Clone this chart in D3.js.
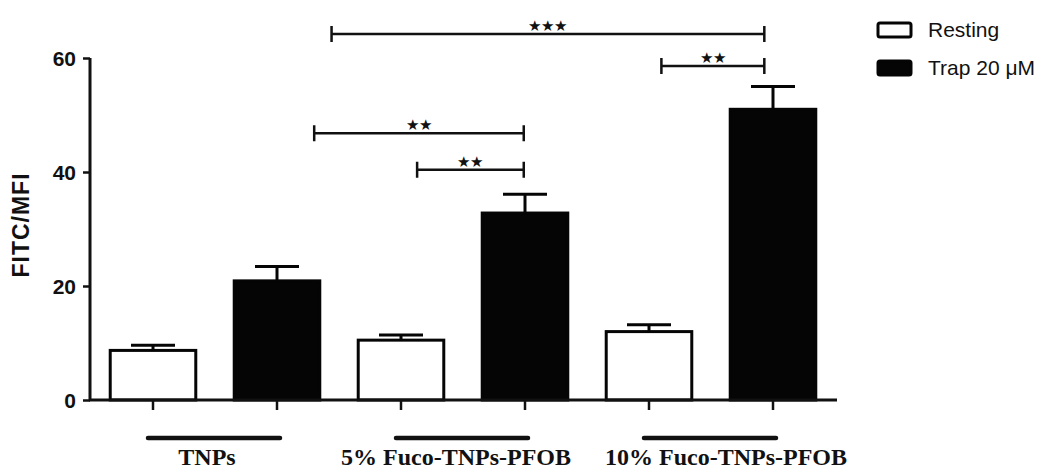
<!DOCTYPE html>
<html lang="en">
<head>
<meta charset="UTF-8">
<title>FITC/MFI bar chart</title>
<style>
    body { margin: 0; background: #fff; }
    svg { display: block; }
    .tick-label { font-family: Arial, 'Liberation Sans', sans-serif; font-weight: bold; font-size: 21px; fill: #111; }
    .axis-title { font-family: Arial, 'Liberation Sans', sans-serif; font-weight: bold; font-size: 23px; letter-spacing: 1px; fill: #111; }
    .group-label { font-family: 'Times New Roman', 'Liberation Serif', serif; font-weight: bold; font-size: 24px; fill: #111; }
    .legend-label { font-family: Arial, 'Liberation Sans', sans-serif; font-size: 21px; fill: #111; }
    .star { font-family: Arial, 'Liberation Sans', sans-serif; font-size: 15px; fill: #111; }
</style>
</head>
<body>
<script src="https://d3js.org/d3.v7.min.js"></script>
<script>
// data
const groups = ['TNPs', '5% Fuco-TNPs-PFOB', '10% Fuco-TNPs-PFOB'];
const seriesNames = ['Resting', 'Trap 20 \u03bcM'];
const restingMean = [8.7, 10.5, 12.0];
const restingErr = [0.9, 0.9, 1.2];
const trapMean = [20.9, 32.8, 51.0];
const trapErr = [2.5, 3.3, 4.0];
const yTicks = [0, 20, 40, 60];
// label nudges so the long names do not collide
const labelShift = [-8, -7, 15];

// significance brackets: x in bar-slot units (0..5), y in data units
const brackets = [
    { x1: 1.44, x2: 4.93, y: 64.2, label: '***' },
    { x1: 4.10, x2: 4.93, y: 58.6, label: '**' },
    { x1: 1.30, x2: 2.99, y: 46.8, label: '**' },
    { x1: 2.13, x2: 2.99, y: 40.4, label: '**' }
];

const W = 1045, H = 473;
const svg = d3.select('body').append('svg').attr('width', W).attr('height', H);

// one slot per bar, resting then trap inside each group
const bars = [];
groups.forEach((g, i) => {
    bars.push({ group: g, series: 0, value: restingMean[i], err: restingErr[i] });
    bars.push({ group: g, series: 1, value: trapMean[i], err: trapErr[i] });
});
const slots = d3.range(bars.length);

const x = d3.scaleBand().domain(slots).range([91, 835]).paddingInner(0.31).paddingOuter(0.155);
const xc = d3.scaleLinear().domain([0, 1]).range([x(0) + x.bandwidth() / 2, x(1) + x.bandwidth() / 2]);
const y = d3.scaleLinear().domain([0, 60]).range([400, 58]);

// y axis
const yAxis = svg.append('g').attr('transform', 'translate(90,0)')
    .call(d3.axisLeft(y).tickValues(yTicks).tickSize(7).tickPadding(7));
yAxis.select('.domain').attr('d', `M0,${y(0)}V${y(60)}`).attr('stroke', '#111').attr('stroke-width', 3);
yAxis.selectAll('.tick line').attr('stroke', '#111').attr('stroke-width', 2.5);
yAxis.selectAll('.tick text').attr('class', 'tick-label').attr('dy', '0.36em');

svg.append('text')
    .attr('class', 'axis-title')
    .attr('transform', `translate(29,${y(30) - 4}) rotate(-90)`)
    .attr('text-anchor', 'middle')
    .text('FITC/MFI');

// bars
svg.selectAll('.bar').data(bars).enter().append('rect')
    .attr('class', 'bar')
    .attr('x', (d, i) => x(i))
    .attr('width', x.bandwidth())
    .attr('y', d => y(d.value))
    .attr('height', d => y(0) - y(d.value))
    .attr('fill', d => d.series ? '#050505' : '#fff')
    .attr('stroke', '#050505')
    .attr('stroke-width', 3);

// error bars (upper only)
const eb = svg.selectAll('.err').data(bars).enter().append('g').attr('class', 'err')
    .attr('stroke', '#050505').attr('stroke-width', 3);
eb.append('line')
    .attr('x1', (d, i) => xc(i)).attr('x2', (d, i) => xc(i))
    .attr('y1', d => y(d.value)).attr('y2', d => y(d.value + d.err));
eb.append('line')
    .attr('x1', (d, i) => xc(i) - 22).attr('x2', (d, i) => xc(i) + 22)
    .attr('y1', d => y(d.value + d.err)).attr('y2', d => y(d.value + d.err));

// x axis line and ticks
svg.append('line').attr('x1', 89).attr('x2', 837).attr('y1', y(0)).attr('y2', y(0))
    .attr('stroke', '#111').attr('stroke-width', 3);
svg.selectAll('.xtick').data(slots).enter().append('line')
    .attr('x1', d => xc(d)).attr('x2', d => xc(d))
    .attr('y1', y(0)).attr('y2', y(0) + 10)
    .attr('stroke', '#111').attr('stroke-width', 2.5);

// group underlines and labels
groups.forEach((g, i) => {
    const a = xc(2 * i) - 5, b = xc(2 * i + 1) + 3;
    svg.append('line').attr('x1', a).attr('x2', b).attr('y1', 438).attr('y2', 438)
        .attr('stroke', '#111').attr('stroke-width', 4.5).attr('stroke-linecap', 'round');
    svg.append('text').attr('class', 'group-label')
        .attr('x', (xc(2 * i) + xc(2 * i + 1)) / 2 + labelShift[i])
        .attr('y', 465).attr('text-anchor', 'middle').text(g);
});

// significance brackets
const br = svg.selectAll('.bracket').data(brackets).enter().append('g').attr('class', 'bracket');
br.append('path')
    .attr('d', d => `M${xc(d.x1)},${y(d.y) - 8}V${y(d.y) + 8}M${xc(d.x1)},${y(d.y)}H${xc(d.x2)}M${xc(d.x2)},${y(d.y) - 8}V${y(d.y) + 8}`)
    .attr('fill', 'none').attr('stroke', '#111').attr('stroke-width', 2.5);
br.append('text').attr('class', 'star')
    .attr('x', d => (xc(d.x1) + xc(d.x2)) / 2)
    .attr('y', d => y(d.y) - 3)
    .attr('text-anchor', 'middle')
    .text(d => d.label.replace(/\*/g, '\u2605'));

// legend
const lg = svg.selectAll('.legend').data(seriesNames).enter().append('g').attr('class', 'legend')
    .attr('transform', (d, i) => `translate(878,${23 + i * 38})`);
lg.append('rect').attr('width', 33).attr('height', 14).attr('rx', 2)
    .attr('fill', (d, i) => i ? '#050505' : '#fff')
    .attr('stroke', '#050505').attr('stroke-width', 3);
lg.append('text').attr('class', 'legend-label').attr('x', 50).attr('y', 7).attr('dy', '0.35em').text(d => d);
</script>
</body>
</html>
